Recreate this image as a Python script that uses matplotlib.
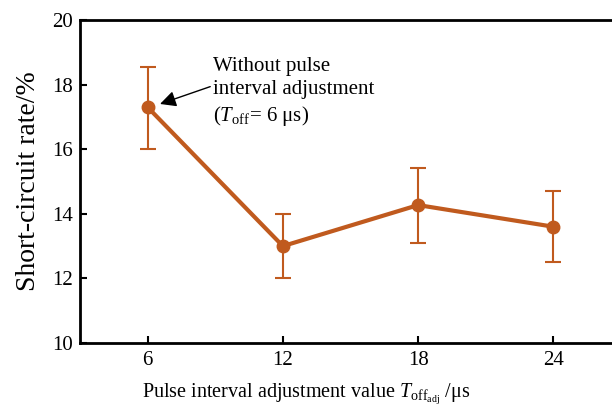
import matplotlib
matplotlib.use("Agg")
import matplotlib.pyplot as plt

# short-circuit rate vs. pulse interval adjustment value
t_adj = [6, 12, 18, 24]
rate = [17.3, 13.0, 14.27, 13.6]
err_low = [16.0, 12.0, 13.1, 12.5]
err_high = [18.55, 14.0, 15.43, 14.7]
xticks = [6, 12, 18, 24]
yticks = [10, 12, 14, 16, 18, 20]

plt.rcParams['font.family'] = ['Liberation Serif', 'DejaVu Serif']
plt.rcParams['mathtext.fontset'] = 'custom'
plt.rcParams['mathtext.rm'] = 'Liberation Serif'
plt.rcParams['mathtext.it'] = 'Liberation Serif:italic'

color = '#C05A1E'

fig = plt.figure(figsize=(6.12, 4.18), dpi=100)
ax = fig.add_axes([80 / 612, 75 / 418, 541 / 612, 323 / 418])

yerr = [[r - lo for r, lo in zip(rate, err_low)],
        [hi - r for r, hi in zip(rate, err_high)]]
ax.errorbar(t_adj, rate, yerr=yerr, color=color, lw=3, marker='o', ms=9,
            ecolor=color, elinewidth=1.5, capsize=6, capthick=1.5)

ax.set_xlim(3, 27)
ax.set_ylim(10, 20)
ax.set_xticks(xticks)
ax.set_yticks(yticks)
ax.tick_params(direction='in', length=5, width=1.5, labelsize=15,
               top=False, right=False, pad=5)
ax.tick_params(axis='x', pad=6)
for s in ax.spines.values():
    s.set_linewidth(2)

ax.set_ylabel('Short-circuit rate/%', fontsize=20, labelpad=8)
ax.set_xlabel(r'Pulse interval adjustment value $T_{\mathrm{off}_{\mathrm{adj}}}$ /μs',
              fontsize=14.5)
ax.xaxis.set_label_coords((306 - 80) / 541, -0.12)

ax.annotate('Without pulse\ninterval adjustment\n($T_{\\mathrm{off}}$= 6 μs)',
            xy=(t_adj[0] + 0.55, rate[0] + 0.1), xytext=(8.9, 18.85),
            fontsize=15, va='top', ha='left', linespacing=1.3,
            arrowprops=dict(arrowstyle='-|>', color='black', lw=1,
                            mutation_scale=24, shrinkA=0, shrinkB=0,
                            relpos=(0, 0.6)))

fig.savefig('out.png', dpi=100)
